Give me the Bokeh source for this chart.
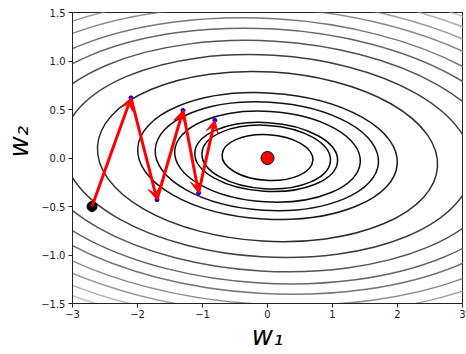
import numpy as np
from bokeh.plotting import figure
from bokeh.models import ColumnDataSource, Arrow, VeeHead, FixedTicker, Title
from bokeh.embed import file_html
from bokeh.resources import INLINE

# Contour levels of the loss surface, innermost first
level_value = [0.056, 0.107, 0.125, 0.218, 0.311, 0.42, 0.76, 1.08, 1.41,
               1.72, 2.01, 2.34, 2.67, 3.0, 3.33, 3.66, 4.0]
# half extent of each contour along w1 and along w2
half_w1 = [0.70, 0.99, 1.10, 1.43, 1.72, 2.0, 2.62, 3.15, 3.6,
           3.98, 4.3, 4.67, 4.97, 5.28, 5.55, 5.83, 6.1]
half_w2 = [0.236, 0.327, 0.354, 0.467, 0.558, 0.65, 0.873, 1.04, 1.186,
           1.311, 1.418, 1.53, 1.63, 1.73, 1.82, 1.91, 2.0]
center_w1 = [0.0, -0.02, -0.02, 0.0, -0.01, 0.0, 0.0, 0.0, 0.0,
             0.0, 0.0, 0.0, 0.0, 0.0, 0.0, 0.0, 0.0]
center_w2 = [0.005, 0.01, 0.011, 0.014, 0.019, 0.02, 0.015, 0.02, 0.02,
             0.02, 0.02, 0.02, 0.02, 0.02, 0.02, 0.02, 0.02]

# Gradient-descent iterates (w1, w2), starting point first
step_w1 = [-2.7, -2.1, -1.7, -1.3, -1.06, -0.81]
step_w2 = [-0.5, 0.62, -0.43, 0.49, -0.36, 0.39]

# Minimum of the loss
opt_w1 = [0.0]
opt_w2 = [0.0]

x_ticks = [-3, -2, -1, 0, 1, 2, 3]
y_ticks = [-1.5, -1.0, -0.5, 0.0, 0.5, 1.0, 1.5]

TILT = -0.06          # slight clockwise tilt of the contour ellipses
GRAY_TOP = 4.3        # level that maps to white on the gray ramp


def gray(v):
    g = int(round(255 * min(v / GRAY_TOP, 1.0)))
    return "#{0:02x}{0:02x}{0:02x}".format(g)


def fmt(v, digits):
    s = f"{abs(v):.{digits}f}"
    return ("\u2212" + s) if v < 0 else s


p = figure(width=466, height=354, x_range=(-3, 3), y_range=(-1.5, 1.5),
           output_backend="svg", toolbar_location=None,
           min_border_left=72, min_border_right=4,
           min_border_top=12, min_border_bottom=51)
p.background_fill_color = "white"
p.border_fill_color = "white"
p.grid.visible = False
p.outline_line_color = "#222222"
p.outline_line_width = 1

contours = ColumnDataSource(dict(
    x=center_w1, y=center_w2,
    w=[2 * a for a in half_w1], h=[2 * b for b in half_w2],
    color=[gray(v) for v in level_value],
))
p.ellipse(x="x", y="y", width="w", height="h", angle=TILT, source=contours,
          fill_color=None, line_color="color", line_width=1.5)

steps = ColumnDataSource(dict(
    x0=step_w1[:-1], y0=step_w2[:-1], x1=step_w1[1:], y1=step_w2[1:],
))
p.add_layout(Arrow(source=steps, x_start="x0", y_start="y0",
                   x_end="x1", y_end="y1",
                   line_color="red", line_width=3,
                   end=VeeHead(size=12, fill_color="red", line_color="red",
                               line_width=1)))

p.scatter(step_w1[1:], step_w2[1:], size=4, color="blue")
p.scatter(step_w1[:1], step_w2[:1], size=10, color="black")
p.scatter(opt_w1, opt_w2, size=13, fill_color="red", line_color="black",
          line_width=1)

p.xaxis.ticker = FixedTicker(ticks=x_ticks)
p.yaxis.ticker = FixedTicker(ticks=y_ticks)
p.xaxis.major_label_overrides = {float(t): fmt(t, 0) for t in x_ticks}
p.yaxis.major_label_overrides = {float(t): fmt(t, 1) for t in y_ticks}

for ax in (p.xaxis, p.yaxis):
    ax.axis_line_color = "#222222"
    ax.major_tick_line_color = "#222222"
    ax.major_tick_out = 4
    ax.major_tick_in = 0
    ax.minor_tick_line_color = None
    ax.major_label_text_font = "DejaVu Sans"
    ax.major_label_text_font_size = "10px"
    ax.major_label_text_color = "#222222"
p.xaxis.major_label_standoff = 2
p.yaxis.major_label_standoff = 3

p.xaxis.axis_label = "w\u2081"
p.xaxis.axis_label_standoff = 0
p.xaxis.axis_label_text_font = "DejaVu Sans"
p.xaxis.axis_label_text_font_size = "26px"
p.xaxis.axis_label_text_font_style = "italic"
p.xaxis.axis_label_text_color = "black"

# w2 title sits a little above the middle of the vertical axis
p.add_layout(Title(text="w\u2082", align="left", offset=146,
                   vertical_align="top",
                   text_font="DejaVu Sans", text_font_size="26px",
                   text_font_style="italic", text_color="black",
                   standoff=6), "left")

open("out.html", "w").write(file_html(p, INLINE))
